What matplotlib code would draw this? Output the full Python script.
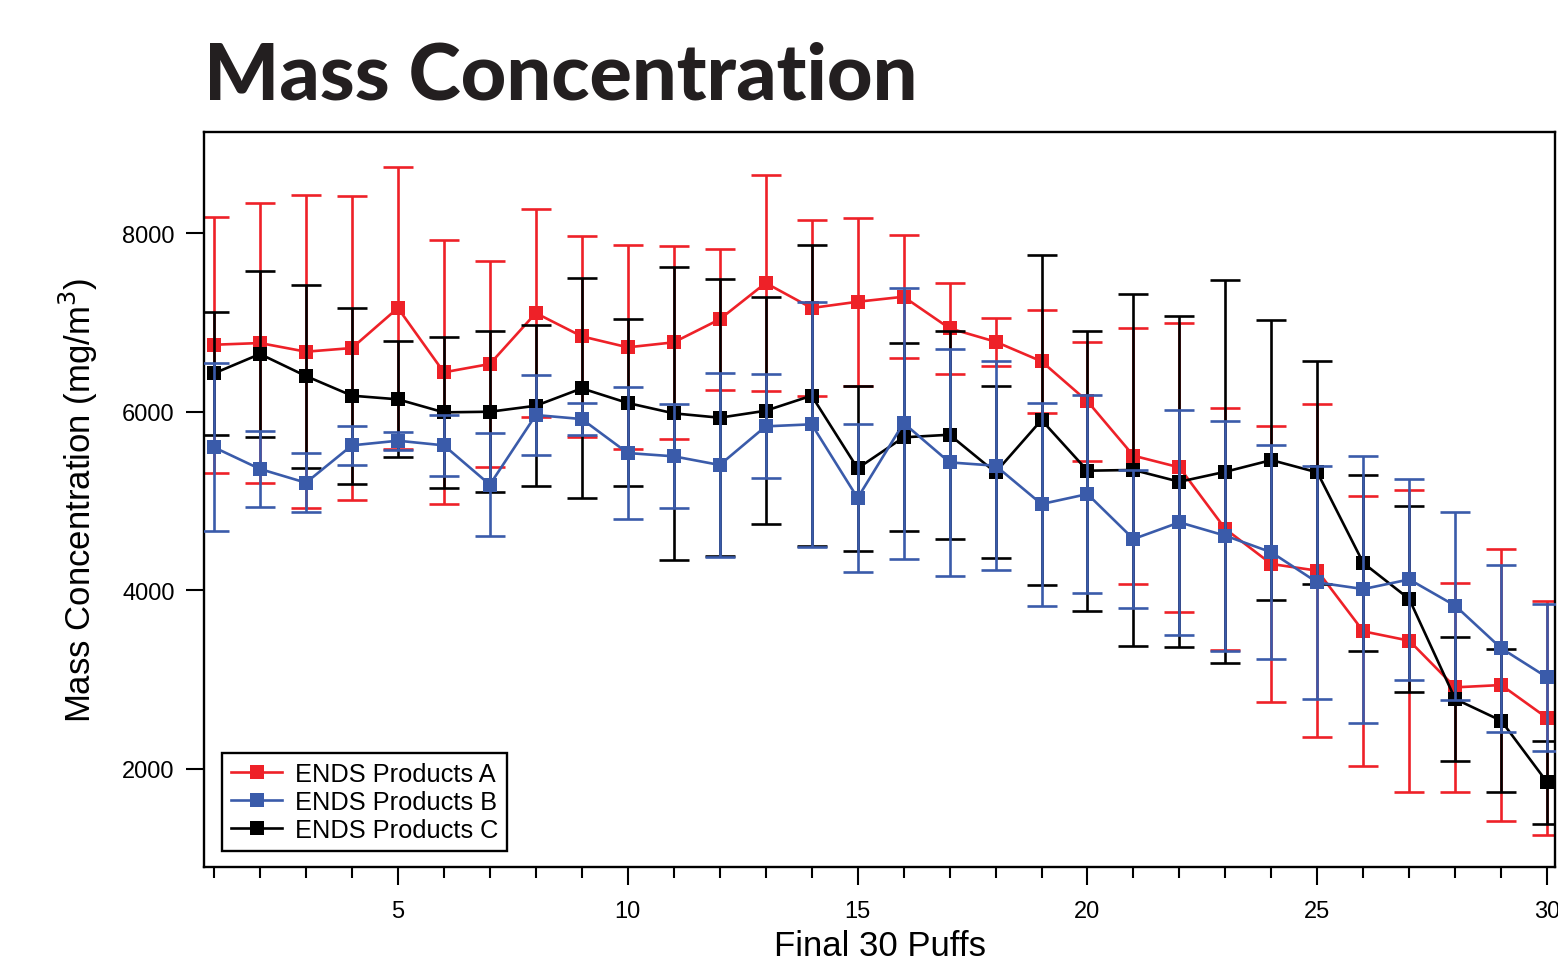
import matplotlib
matplotlib.use("Agg")
import matplotlib.pyplot as plt
from matplotlib.lines import Line2D
import numpy as np

puffs = list(range(1, 31))

a_mean = [6751, 6770, 6673, 6714, 7163, 6442, 6535, 7106, 6845, 6722,
          6778, 7036, 7443, 7163, 7233, 7289, 6935, 6785, 6565, 6117,
          5507, 5376, 4685, 4293, 4218, 3538, 3433, 2910, 2936, 2566]
a_err = [1435, 1565, 1753, 1708, 1577, 1478, 1152, 1163, 1130, 1143,
         1083, 787, 1212, 989, 940, 691, 508, 267, 581, 670,
         1437, 1620, 1360, 1543, 1865, 1512, 1695, 1173, 1525, 1316]

b_mean = [5601, 5358, 5204, 5623, 5675, 5623, 5182, 5963, 5918, 5537,
          5500, 5403, 5836, 5859, 5033, 5873, 5432, 5395, 4965, 5077,
          4573, 4760, 4610, 4424, 4086, 4012, 4120, 3825, 3348, 3022]
b_err = [940, 428, 328, 217, 100, 345, 575, 445, 184, 735,
         583, 1028, 583, 1373, 827, 1519, 1271, 1174, 1138, 1112,
         772, 1263, 1290, 1200, 1305, 1497, 1130, 1055, 935, 826]

c_mean = [6430, 6647, 6400, 6180, 6139, 5993, 6000, 6067, 6262, 6098,
          5982, 5933, 6011, 6180, 5365, 5713, 5742, 5320, 5907, 5339,
          5347, 5215, 5327, 5458, 5320, 4304, 3900, 2779, 2536, 1845]
c_err = [690, 932, 1026, 985, 650, 845, 905, 900, 1233, 936,
         1640, 1555, 1274, 1685, 923, 1052, 1166, 964, 1846, 1570,
         1975, 1857, 2148, 1572, 1248, 988, 1044, 693, 803, 467]

labels = ["ENDS Products A", "ENDS Products B", "ENDS Products C"]
colors = ["#EE2128", "#3A5BAA", "#000000"]

plt.rcParams['font.family'] = ['Liberation Sans', 'DejaVu Sans']

fig = plt.figure(figsize=(15.58, 9.62), dpi=100)
ax = fig.add_axes([204/1558, 1-868/962, (1555-204)/1558, (868-133)/962])

LW = 1.9
series = [(a_mean, a_err, colors[0], 2), (b_mean, b_err, colors[1], 4), (c_mean, c_err, colors[2], 3)]
for mean, err, col, z in series:
    ax.errorbar(puffs, mean, yerr=err, fmt='none', ecolor=col,
                elinewidth=LW, capsize=11, capthick=LW, zorder=z)
    ax.plot(puffs, mean, '-s', color=col, lw=LW, markersize=10.5,
            markeredgewidth=0, zorder=z + 0.1)

ax.set_xlim(0.782, 30.17)
ax.set_ylim(896, 9136)
ax.set_xticks([5, 10, 15, 20, 25, 30])
ax.set_xticks(puffs, minor=True)
ax.set_yticks([2000, 4000, 6000, 8000])

for sp in ax.spines.values():
    sp.set_linewidth(1.7)
ax.tick_params(axis='both', which='major', direction='out', length=13, width=1.5,
               labelsize=17, pad=8)
ax.tick_params(axis='x', which='major', pad=11)
ax.tick_params(axis='x', which='minor', direction='out', length=8, width=1.5)
ax.tick_params(axis='y', which='minor', left=False)
ax.tick_params(top=False, right=False)

ax.set_xlabel("Final 30 Puffs", fontsize=25, labelpad=5)
ax.set_ylabel("Mass Concentration (mg/m$^{3}$)", fontsize=25, labelpad=16)

handles = [Line2D([], [], color=c, lw=LW, marker='s', markersize=10.5, markeredgewidth=0)
           for c in colors]
leg = ax.legend(handles, labels, loc='lower left', bbox_to_anchor=(18/1351, 16/735),
                fontsize=18.3, frameon=True, fancybox=False, edgecolor='black',
                framealpha=1, handlelength=2.0, handletextpad=0.5, labelspacing=0.16,
                borderpad=0.36, borderaxespad=0)
leg.get_frame().set_linewidth(1.7)

fig.text(204/1558, 1-100/962, "Mass Concentration", fontsize=57, fontweight='black',
         family=['Lato', 'DejaVu Sans'], ha='left', va='baseline', color='#231F20')

fig.savefig("out.png", dpi=100)
